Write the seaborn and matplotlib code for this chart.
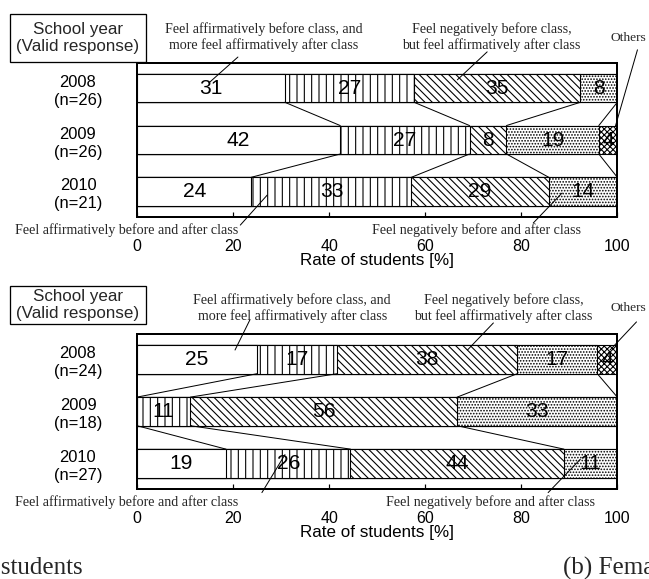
import numpy as np
import pandas as pd
import matplotlib
matplotlib.use("Agg")
import matplotlib.pyplot as plt
from matplotlib.patches import Rectangle
import seaborn as sns

# ---------------------------------------------------------------- data
years = ["2008", "2009", "2010"]
answers = [
    "Feel affirmatively before class, and\nmore feel affirmatively after class",
    "Feel affirmatively before and after class",
    "Feel negatively before class,\nbut feel affirmatively after class",
    "Feel negatively before and after class",
    "Others",
]
# number of students choosing each answer (columns follow `answers`)
male_counts = [
    [8, 7, 9, 2, 0],
    [11, 7, 2, 5, 1],
    [5, 7, 6, 3, 0],
]
female_counts = [
    [6, 4, 9, 4, 1],
    [0, 2, 10, 6, 0],
    [5, 7, 12, 3, 0],
]
x_ticks = [0, 20, 40, 60, 80, 100]
x_label = "Rate of students [%]"
header = "School year\n(Valid response)"
captions = ["(a) Male students", "(b) Female students"]

# ---------------------------------------------------------------- style
DPI = 88
W, H = 649, 579


def pt(px):
    """pixel size -> points at the output resolution"""
    return px * 72.0 / DPI


sns.set_style("white")
plt.rcParams["font.family"] = ["Liberation Sans", "DejaVu Sans"]
plt.rcParams["hatch.linewidth"] = 0.9
SERIF = ["Liberation Serif", "DejaVu Serif"]

hatches = ["", "||", "\\\\\\\\", ".....", "xxxxx"]
BAR_H = 0.55

fig = plt.figure(figsize=((W + 0.3) / DPI, (H + 0.3) / DPI), dpi=DPI)
fig.patch.set_facecolor("white")

ax_top = fig.add_axes([137 / W, 1 - 217 / H, 480 / W, 154 / H])
ax_bot = fig.add_axes([137 / W, 1 - 489 / H, 480 / W, 155 / H])

# annotation layout per panel: (answer index, text xy, ha, leader start, leader end)
notes_top = [
    (0, (26.3, -1.00), "center", (21.0, -0.60), (15.2, -0.12)),
    (2, (73.8, -1.00), "center", (72.9, -0.70), (66.7, -0.16)),
    (4, (98.6, -0.98), "left", (104.2, -0.74), (99.6, 0.74)),
    (1, (-2.1, 2.74), "center", (21.5, 2.65), (27.1, 2.07)),
    (3, (70.6, 2.74), "center", (82.5, 2.61), (88.5, 2.03)),
]
notes_bot = [
    (0, (32.3, -0.99), "center", (23.5, -0.76), (20.4, -0.18)),
    (2, (76.3, -0.99), "center", (74.2, -0.70), (68.8, -0.18)),
    (4, (98.6, -0.99), "left", (104.0, -0.72), (98.5, -0.18)),
    (1, (-2.1, 2.73), "center", (26.0, 2.56), (30.8, 1.83)),
    (3, (73.5, 2.73), "center", (85.6, 2.56), (92.3, 1.92)),
]


def draw_panel(ax, counts, notes, box_y):
    counts = np.asarray(counts, dtype=float)
    n = counts.sum(axis=1)
    pct = counts / n[:, None] * 100.0
    cum = pct.cumsum(axis=1)
    rows = [f"{y}\n(n={int(k)})" for y, k in zip(years, n)]

    df = pd.DataFrame(cum, columns=[f"c{k}" for k in range(len(answers))])
    df["row"] = rows

    # stacked bars: draw cumulative totals from the right, each covering the last
    for k in range(len(answers) - 1, -1, -1):
        sns.barplot(
            data=df, x=f"c{k}", y="row", order=rows, orient="h",
            color="white", saturation=1, edgecolor="black",
            linewidth=pt(1.1), hatch=hatches[k], width=BAR_H,
            errorbar=None, ax=ax,
        )

    # value labels
    for i in range(len(rows)):
        left = 0.0
        for k in range(len(answers)):
            w = pct[i, k]
            if counts[i, k] > 0:
                ax.text(left + w / 2, i, f"{round(w):d}", ha="center",
                        va="center", fontsize=pt(21), color="black")
            left += w

    # lines joining the answer boundaries of consecutive years
    h = BAR_H / 2
    for i in range(len(rows) - 1):
        for k in range(len(answers) - 1):
            ax.plot([cum[i, k], cum[i + 1, k]], [i + h, i + 1 - h],
                    color="black", lw=pt(1.0), clip_on=False)

    # category notes with leaders
    for k, (tx, ty), ha, p0, p1 in notes:
        size = 13.5 if ha == "left" else 14
        ax.text(tx, ty, answers[k], ha=ha, va="center", family=SERIF,
                fontsize=pt(size), linespacing=1.2, clip_on=False)
        ax.plot([p0[0], p1[0]], [p0[1], p1[1]], color="black",
                lw=pt(1.0), clip_on=False)

    ax.set_xlim(0, 100)
    ax.set_ylim(2.49, -0.49)
    ax.set_xticks(x_ticks)
    ax.set_xticklabels([str(t) for t in x_ticks])
    ax.set_yticks(range(len(rows)))
    ax.set_yticklabels(rows, multialignment="center", linespacing=1.25)
    ax.tick_params(axis="x", direction="in", length=pt(5), width=pt(1.2),
                   labelsize=pt(16), pad=pt(22), colors="black", bottom=True)
    ax.tick_params(axis="y", length=0, pad=pt(35), labelsize=pt(16.5),
                   colors="black")
    ax.set_xlabel(x_label, fontsize=pt(17), labelpad=pt(-1.5), color="black")
    ax.set_ylabel("")
    for s in ax.spines.values():
        s.set_visible(True)
        s.set_color("black")
        s.set_linewidth(pt(2.0))

    # header box above the year labels
    y0, y1 = box_y
    ax.add_patch(Rectangle((-0.2646, y0), 0.2834, y1 - y0,
                           transform=ax.transAxes, fill=False,
                           ec="black", lw=pt(1.3), clip_on=False))
    ax.text(-0.1229, (y0 + y1) / 2, header, transform=ax.transAxes,
            ha="center", va="center", multialignment="center",
            fontsize=pt(17), linespacing=1.15, clip_on=False)


draw_panel(ax_top, male_counts, notes_top, (1.0065, 1.318))
draw_panel(ax_bot, female_counts, notes_bot, (1.0645, 1.31))

# sub-figure captions (partly outside the canvas)
fig.text(83 / W, 1 - 574 / H, captions[0], ha="right", va="baseline",
         family=SERIF, fontsize=pt(25))
fig.text(563 / W, 1 - 574 / H, captions[1], ha="left", va="baseline",
         family=SERIF, fontsize=pt(25))

fig.savefig("out.png", dpi=DPI, facecolor="white")
